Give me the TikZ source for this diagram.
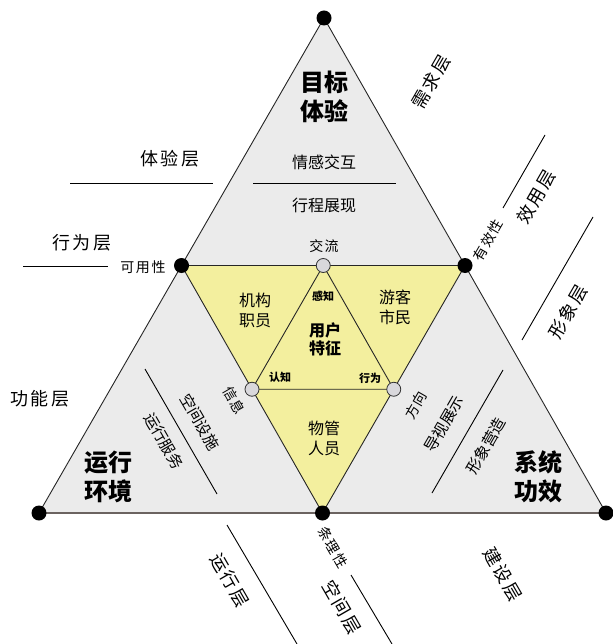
\documentclass[tikz,border=0pt]{standalone}
\usepackage{fontspec}
\setmainfont{Noto Sans CJK SC}
\newfontfamily\layerfont[LetterSpace=12]{Noto Sans CJK SC}
\newfontfamily\spacedfont[LetterSpace=8]{Noto Sans CJK SC}
\definecolor{zonegrey}{HTML}{EBEBEB}
\definecolor{zoneyellow}{HTML}{F3EF9E}
\definecolor{jointgrey}{HTML}{D9D8DC}
\definecolor{basegrey}{HTML}{6B6360}
\tikzstyle{edge}=[draw=black!85,line width=0.9pt]
\tikzstyle{baseedge}=[draw=basegrey,line width=2pt]
\tikzstyle{layerline}=[draw=black,line width=0.9pt]
\tikzstyle{cornerdot}=[circle,fill=black,inner sep=0pt,minimum size=15pt]
\tikzstyle{jointdot}=[circle,draw=black!80,fill=jointgrey,inner sep=0pt,minimum size=14pt,line width=0.8pt]
\tikzstyle{zonetitle}=[font=\fontsize{24}{29}\selectfont\bfseries,align=center]
\tikzstyle{usertitle}=[font=\fontsize{16}{18}\selectfont\bfseries,align=center]
\tikzstyle{roletext}=[font=\fontsize{16}{20}\selectfont,align=center]
\tikzstyle{zonetext}=[font=\fontsize{15.5}{18}\selectfont,inner sep=1pt]
\tikzstyle{tinylabel}=[font=\fontsize{11}{13}\selectfont\bfseries]
\tikzstyle{smalllabel}=[font=\spacedfont\fontsize{14}{16}\selectfont,inner sep=1pt]
\tikzstyle{qualitylabel}=[font=\layerfont\fontsize{14}{16}\selectfont,inner sep=1pt]
\tikzstyle{layerlabel}=[font=\layerfont\fontsize{18}{20}\selectfont,inner sep=1pt]
\tikzstyle{turnright}=[rotate=60]
\tikzstyle{turnleft}=[rotate=-60]

\begin{document}
\begin{tikzpicture}[x=1pt,y=-1pt]
\useasboundingbox (0,0) rectangle (612,644);

\coordinate (T) at (324,18);
\coordinate (BL) at (39,513);
\coordinate (BR) at (606,513);
\coordinate (L) at (181.5,265.5);
\coordinate (R) at (465,265.5);
\coordinate (B) at (322.5,513);
\coordinate (J1) at (323.25,265.5);
\coordinate (J2) at (252,389.25);
\coordinate (J3) at (393.75,389.25);

\fill[zonegrey] (T) -- (BL) -- (BR) -- cycle;
\fill[zoneyellow] (L) -- (R) -- (B) -- cycle;
\draw[edge] (BL) -- (T) -- (BR);
\draw[baseedge] (BL) -- (BR);
\draw[edge] (L) -- (R) -- (B) -- cycle;
\draw[edge] (J1) -- (J2) -- (J3) -- cycle;

\node[cornerdot] (dT) at (T) {};
\node[cornerdot] (dBL) at (BL) {};
\node[cornerdot] (dBR) at (BR) {};
\node[cornerdot] (dL) at (L) {};
\node[cornerdot] (dR) at (R) {};
\node[cornerdot] (dB) at (B) {};
\node[jointdot] (dJ1) at (J1) {};
\node[jointdot] (dJ2) at (J2) {};
\node[jointdot] (dJ3) at (J3) {};

% zone titles
\node[zonetitle] (goal) at (324,97) {目标\\体验};
\node[zonetitle] (envir) at (108,477) {运行\\环境};
\node[zonetitle] (effect) at (538,477) {系统\\功效};
\node[usertitle] (user) at (325,339) {用户\\特征};
\node[roletext] (staff) at (255,310) {机构\\职员};
\node[roletext] (visitor) at (395,307) {游客\\市民};
\node[roletext] (manager) at (324,438) {物管\\人员};

\node[roletext] (emotion) at (324,162) {情感交互};
\node[roletext] (journey) at (324,205) {行程展现};
\node[zonetext,turnleft] (space) at (200,422) {空间设施};
\node[zonetext,turnleft] (service) at (164,441) {运行服务};
\node[zonetext,turnright] (guide) at (444,424) {导视展示};
\node[zonetext,turnright] (image) at (486,446) {形象营造};

\node[smalllabel] (talk) at (324,246) {交流};
\node[tinylabel] (sense) at (323,296) {感知};
\node[tinylabel] (cogn) at (280,377) {认知};
\node[tinylabel] (act) at (370,378) {行为};
\node[smalllabel,turnleft] (info) at (234,400) {信息};
\node[smalllabel,turnright] (dir) at (416,405) {方向};
\node[qualitylabel] (usable) at (143,267) {可用性};
\node[qualitylabel,turnright] (valid) at (488,240) {有效性};
\node[qualitylabel,turnleft] (order) at (333,547) {条理性};

% layers
\node[layerlabel] (lexp) at (170,159) {体验层};
\node[layerlabel] (lbeh) at (82,243) {行为层};
\node[layerlabel] (lfun) at (40,399) {功能层};
\node[layerlabel,turnright] (lneed) at (431,82) {需求层};
\node[layerlabel,turnright] (luse) at (536,197) {效用层};
\node[layerlabel,turnright] (lform) at (568,312) {形象层};
\node[layerlabel,turnleft] (lbuild) at (503,574) {建设层};
\node[layerlabel,turnleft] (lspace) at (342,607) {空间层};
\node[layerlabel,turnleft] (lrun) at (230,580) {运行层};

\coordinate (e1) at (70,183);
\coordinate (e2) at (213,183);
\coordinate (e3) at (253,183);
\coordinate (e4) at (396,183);
\coordinate (b1) at (23,266);
\coordinate (b2) at (108,266);
\coordinate (u1) at (503,208);
\coordinate (u2) at (545,135);
\coordinate (f1) at (522,340);
\coordinate (f2) at (593,217);
\coordinate (s1) at (145,369);
\coordinate (s2) at (217,494);
\coordinate (g1) at (432,493);
\coordinate (g2) at (503,370);
\coordinate (r1) at (227,525);
\coordinate (r2) at (297,644);
\coordinate (p1) at (351,575);
\coordinate (p2) at (392,644);

\draw[layerline] (e1) -- (e2);
\draw[layerline] (e3) -- (e4);
\draw[layerline] (b1) -- (b2);
\draw[layerline] (u1) -- (u2);
\draw[layerline] (f1) -- (f2);
\draw[layerline] (s1) -- (s2);
\draw[layerline] (g1) -- (g2);
\draw[layerline] (r1) -- (r2);
\draw[layerline] (p1) -- (p2);

\end{tikzpicture}
\end{document}
